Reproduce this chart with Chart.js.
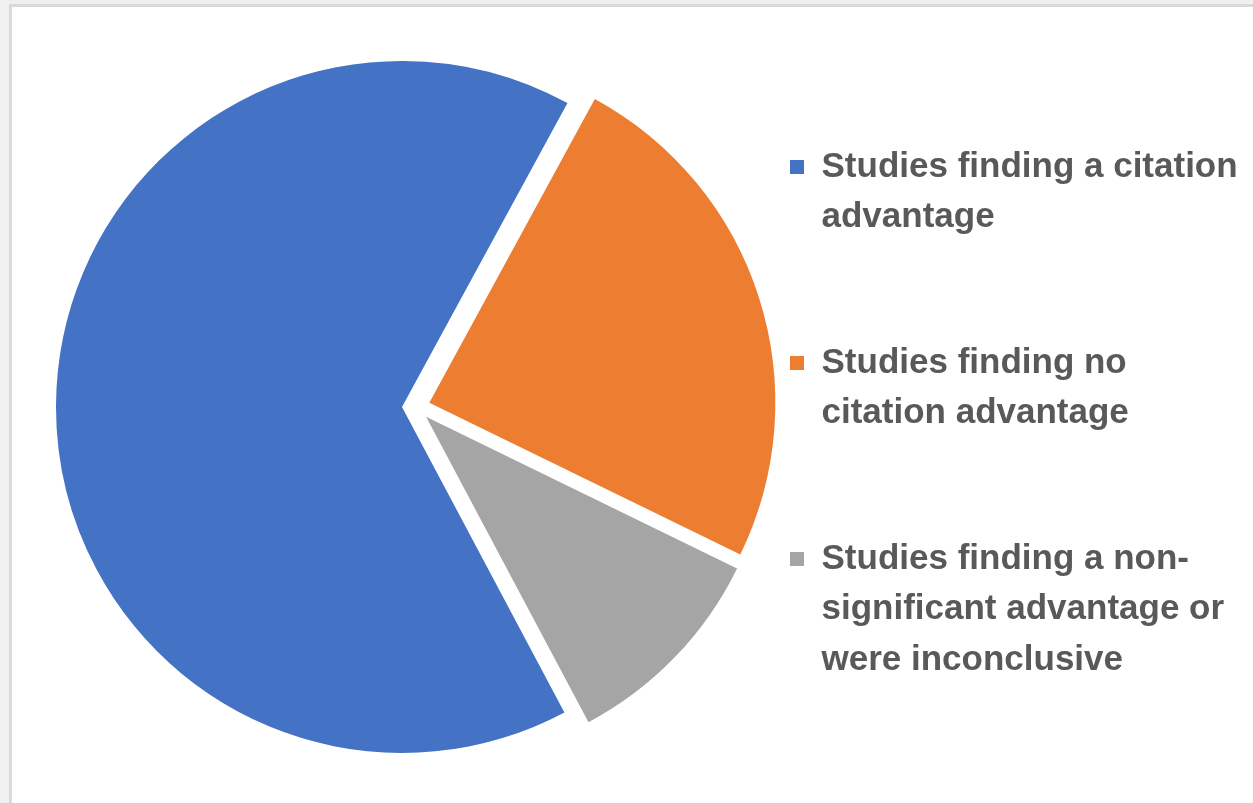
<!DOCTYPE html>
<html>
<head>
<meta charset="utf-8">
<script src="https://cdn.jsdelivr.net/npm/chart.js@4"></script>
<style>
  html, body { margin: 0; padding: 0; background: #f0f0f0; overflow: hidden; }
  #frame {
    position: absolute; left: 9px; top: 4px;
    width: 1244px; height: 799px;
    background: #fff;
    border-left: 3px solid #d9d9d9;
    border-top: 3px solid #d9d9d9;
  }
  canvas { display: block; }
</style>
</head>
<body>
<div id="frame"><canvas id="pie-chart" width="1241" height="796"></canvas></div>
<script>
// number of studies in each group
const labels = [
  ['Studies finding a citation', 'advantage'],
  ['Studies finding no', 'citation advantage'],
  ['Studies finding a non-', 'significant advantage or', 'were inconclusive']
];
const studies = [46, 17, 7];
const colors = ['#4472C4', '#ED7D31', '#A5A5A5'];

const EXPLODE = 14;
const FONT_SIZE = 35;
const LEGEND_PAD = 95;
const BOX = 14;

// push every slice out from the centre, like Excel's point explosion
const explode = {
  id: 'explode',
  afterDatasetUpdate(chart, args) {
    args.meta.data.forEach(function (arc) {
      const mid = (arc.startAngle + arc.endAngle) / 2;
      arc.x += Math.cos(mid) * EXPLODE;
      arc.y += Math.sin(mid) * EXPLODE;
    });
  }
};

function drawChart() {
  const canvas = document.getElementById('pie-chart');
  const ctx = canvas.getContext('2d');

  // legend width so the pie centre lands where it should
  ctx.font = 'bold ' + FONT_SIZE + 'px "Liberation Sans"';
  const textW = ctx.measureText('Studies finding a citation').width;
  const legendW = LEGEND_PAD + BOX + FONT_SIZE / 2 + textW + 10;
  const legendLeft = 683;
  const padRight = Math.max(canvas.width - legendLeft - legendW, 0);

  new Chart(ctx, {
    type: 'pie',
    data: {
      labels: labels,
      datasets: [{
        data: studies,
        backgroundColor: colors,
        borderWidth: 0
      }]
    },
    options: {
      responsive: false,
      animation: false,
      rotation: 152,
      radius: 346,
      layout: {
        padding: { top: 19, bottom: 15, left: 125, right: padRight }
      },
      plugins: {
        tooltip: { enabled: false },
        legend: {
          position: 'right',
          align: 'end',
          labels: {
            boxWidth: BOX,
            boxHeight: BOX,
            padding: LEGEND_PAD,
            color: '#595959',
            font: {
              family: '"Liberation Sans", Arial, sans-serif',
              size: FONT_SIZE,
              weight: 'bold',
              lineHeight: 50.5 / FONT_SIZE
            }
          }
        }
      }
    },
    plugins: [explode]
  });
}

drawChart();
</script>
</body>
</html>
